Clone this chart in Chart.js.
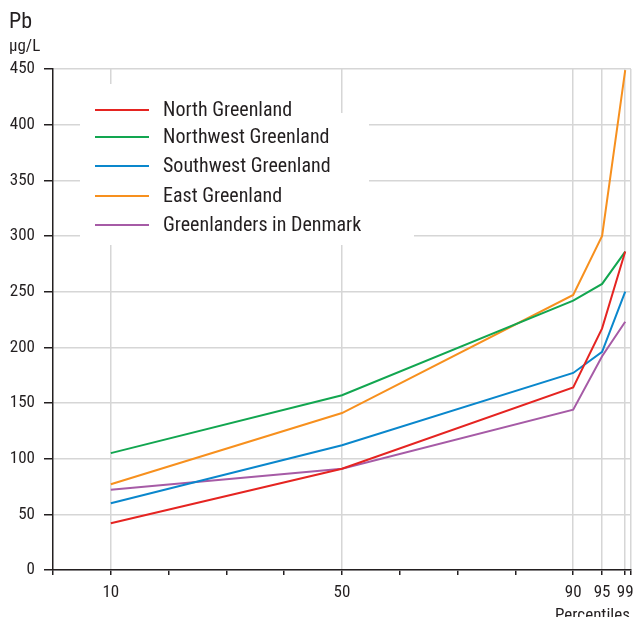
<!DOCTYPE html>
<html>
<head>
<meta charset="utf-8">
<script src="https://cdn.jsdelivr.net/npm/chart.js@4/dist/chart.umd.min.js"></script>
<style>
html,body{margin:0;padding:0;background:#fff;}
#wrap{width:635px;height:617px;position:relative;}
</style>
</head>
<body>
<div id="wrap"><canvas id="c"></canvas></div>
<script>
const percentiles = [10, 50, 90, 95, 99];
const seriesNames = ["North Greenland", "Northwest Greenland", "Southwest Greenland", "East Greenland", "Greenlanders in Denmark"];
const northGreenland = [42, 91, 164, 217, 286];
const northwestGreenland = [105, 157, 242, 257, 286];
const southwestGreenland = [60, 112, 177, 196, 250];
const eastGreenland = [77, 141, 247, 300, 449];
const greenlandersDenmark = [72, 91, 144, 192, 223];
const seriesColors = ["#e52421", "#12a650", "#0a87cc", "#f7901e", "#a65ba6"];
const xTicks = [0, 10, 20, 30, 40, 50, 60, 70, 80, 90, 95, 99, 100];
const xLabelled = [10, 50, 90, 95, 99];
const xGridded = [10, 50, 90, 95, 99, 100];

const FONT = '"Liberation Sans Narrow", "Roboto Condensed", "Liberation Sans", Arial, sans-serif';
const allSeries = [northGreenland, northwestGreenland, southwestGreenland, eastGreenland, greenlandersDenmark];

const datasets = allSeries.map((vals, i) => ({
  label: seriesNames[i],
  data: percentiles.map((p, j) => ({x: p, y: vals[j]})),
  borderColor: seriesColors[i],
  backgroundColor: seriesColors[i],
  borderWidth: 2,
  pointRadius: 0,
  tension: 0,
  fill: false
}));

const overlay = {
  id: 'overlay',
  afterDraw(chart) {
    const ctx = chart.ctx;
    ctx.save();
    ctx.fillStyle = '#fff';
    ctx.fillRect(80, 84, 252, 30);
    ctx.fillRect(80, 113, 289, 99);
    ctx.fillRect(80, 211, 334, 34);
    const rows = [110, 137, 166, 196, 225];
    ctx.font = '20px ' + FONT;
    ctx.textBaseline = 'middle';
    ctx.textAlign = 'left';
    chart.data.datasets.forEach((ds, i) => {
      ctx.strokeStyle = ds.borderColor;
      ctx.lineWidth = 2;
      ctx.beginPath();
      ctx.moveTo(95, rows[i]);
      ctx.lineTo(149, rows[i]);
      ctx.stroke();
      ctx.fillStyle = '#231f20';
      ctx.fillText(ds.label, 163, rows[i] + 1);
    });
    ctx.fillStyle = '#231f20';
    ctx.font = '22px ' + FONT;
    ctx.textBaseline = 'alphabetic';
    ctx.fillText('Pb', 9, 28);
    ctx.font = '17px ' + FONT;
    ctx.fillText('\u03bcg/L', 9, 51);
    ctx.fillText('Percentiles', 555, 620);
    ctx.restore();
  }
};

new Chart(document.getElementById('c'), {
  type: 'line',
  data: {datasets},
  options: {
    responsive: true,
    maintainAspectRatio: false,
    animation: false,
    events: [],
    layout: {padding: {top: 69, right: 4, left: 0, bottom: 0}},
    plugins: {legend: {display: false}, tooltip: {enabled: false}},
    scales: {
      x: {
        type: 'linear',
        min: 0,
        max: 100,
        afterBuildTicks: (scale) => { scale.ticks = xTicks.map(v => ({value: v})); },
        afterFit: (scale) => { scale.height = 47; scale.paddingRight = 0; },
        border: {color: '#231f20', width: 1.5},
        grid: {
          color: (c) => (c.tick && xGridded.includes(c.tick.value)) ? '#d6d6d6' : 'rgba(0,0,0,0)',
          lineWidth: 1.5,
          tickColor: '#231f20',
          tickLength: 5,
          drawTicks: true
        },
        ticks: {
          autoSkip: false,
          maxRotation: 0,
          padding: 8,
          color: '#231f20',
          font: {family: FONT, size: 17},
          callback: (v) => xLabelled.includes(v) ? String(v) : ''
        }
      },
      y: {
        min: 0,
        max: 450,
        afterBuildTicks: (scale) => { const t = []; for (let v = 0; v <= 450; v += 50) t.push({value: v}); scale.ticks = t; },
        afterFit: (scale) => { scale.width = 53; },
        border: {color: '#231f20', width: 1.5},
        grid: {
          color: '#d6d6d6',
          lineWidth: 1.5,
          tickColor: '#231f20',
          tickLength: 9
        },
        ticks: {
          padding: 9,
          color: '#231f20',
          font: {family: FONT, size: 17}
        }
      }
    }
  },
  plugins: [overlay]
});
</script>
</body>
</html>
